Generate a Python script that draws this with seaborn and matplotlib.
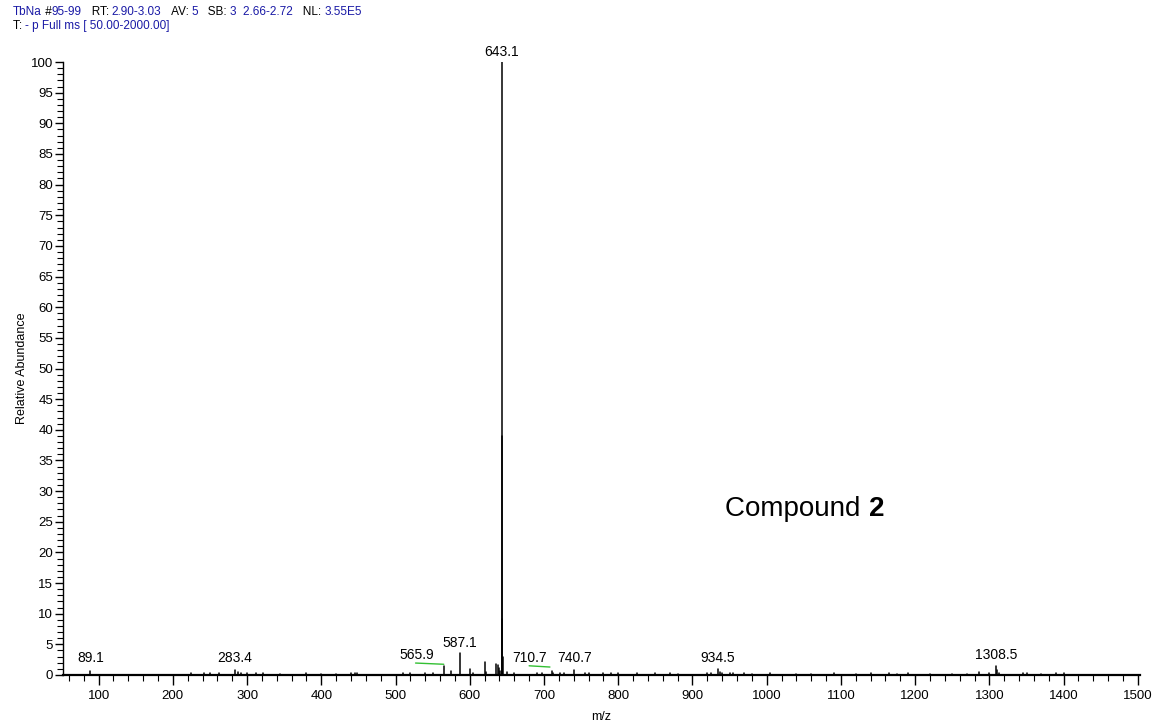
import numpy as np
import pandas as pd
import matplotlib
matplotlib.use("Agg")
import matplotlib.pyplot as plt
import seaborn as sns
from matplotlib.offsetbox import TextArea, HPacker, AnchoredOffsetbox
from matplotlib.ticker import MultipleLocator

# ---------------- data ----------------
peak_mz = [89.1, 225, 242, 250, 262, 283.4, 288, 292, 300, 312, 322, 345, 380, 400, 420, 440, 445, 448,
           510, 520, 540, 550, 565.9, 575, 587.1, 600, 605, 620.0, 622, 636, 637.5, 639, 640.5,
           643.1, 643.5, 644.1, 645.1, 650, 660, 690, 697, 710.7, 712, 722, 727, 740.7, 755, 760,
           780, 790, 800, 825, 850, 870, 880, 920, 925, 934.5, 936.5, 940, 950, 955, 970, 980,
           1004, 1040, 1060, 1090, 1120, 1140, 1165, 1175, 1190, 1220, 1250, 1270, 1286,
           1300, 1308.5, 1310.5, 1313, 1345, 1350, 1370, 1390, 1400]
peak_ab = [0.6, 0.25, 0.3, 0.25, 0.3, 0.8, 0.45, 0.35, 0.3, 0.4, 0.25, 0.2, 0.25, 0.2, 0.2, 0.3, 0.4, 0.3,
           0.3, 0.3, 0.35, 0.3, 1.5, 0.6, 3.6, 0.9, 0.4, 2.2, 0.5, 1.8, 1.6, 1.2, 0.6,
           100, 39, 9.2, 3.0, 0.5, 0.3, 0.3, 0.35, 0.7, 0.4, 0.3, 0.3, 0.8, 0.4, 0.3,
           0.25, 0.25, 0.3, 0.25, 0.25, 0.3, 0.2, 0.3, 0.35, 0.9, 0.5, 0.3, 0.3, 0.25, 0.3, 0.2,
           0.3, 0.2, 0.2, 0.25, 0.2, 0.3, 0.25, 0.2, 0.25, 0.2, 0.2, 0.2, 0.55,
           0.3, 1.5, 0.8, 0.4, 0.3, 0.25, 0.2, 0.25, 0.3]

label_text = ["89.1", "283.4", "565.9", "587.1", "643.1", "710.7", "740.7", "934.5", "1308.5"]
label_mz   = [89.1, 283.4, 528, 587.1, 643.1, 681, 740.7, 934.5, 1308.5]
label_ab   = [1.1, 1.1, 1.6, 3.7, 100, 1.1, 1.1, 1.1, 1.6]

leader_mz = [[527, 565], [680, 708]]
leader_ab = [[1.95, 1.75], [1.5, 1.3]]

# ---------------- figure ----------------
sns.set_theme(style="ticks")
plt.rcParams['font.family'] = ['Liberation Sans', 'DejaVu Sans']
plt.rcParams.update({"text.color": "black", "axes.labelcolor": "black",
                     "xtick.color": "black", "ytick.color": "black",
                     "axes.edgecolor": "black"})

fig = plt.figure(figsize=(11.53, 7.22), dpi=100)
ax = fig.add_axes([0.0546, 0.0651, 0.9342, 0.8490])

rows = []
for i, (m, a) in enumerate(zip(peak_mz, peak_ab)):
    rows.append({"peak": i, "mz": m, "ab": 0.0})
    rows.append({"peak": i, "mz": m, "ab": a})
df = pd.DataFrame(rows)
sns.lineplot(data=df, x="mz", y="ab", units="peak", estimator=None, sort=False,
             color="black", lw=1.1, ax=ax, legend=False)

for xs, ys in zip(leader_mz, leader_ab):
    ax.plot(xs, ys, color="#33c033", lw=1.0)

for t, m, a in zip(label_text, label_mz, label_ab):
    ax.annotate(t, xy=(m, a), xytext=(0, 2), textcoords="offset points",
                ha="center", va="bottom", fontsize=10, clip_on=False)

ax.set_xlim(52, 1503)
ax.set_ylim(0, 100)
ax.xaxis.set_minor_locator(MultipleLocator(20))
ax.yaxis.set_major_locator(MultipleLocator(5))
ax.yaxis.set_minor_locator(MultipleLocator(1))
ax.set_xticks(np.arange(100, 1501, 100))
ax.tick_params(axis="x", which="major", length=7, width=1, labelsize=9.5, pad=4)
ax.tick_params(axis="x", which="minor", length=4, width=0.8)
ax.tick_params(axis="y", which="major", length=6, width=1, labelsize=9.5, pad=1)
ax.tick_params(axis="y", which="minor", length=4, width=0.8)
sns.despine(ax=ax)
ax.spines["left"].set_linewidth(1.0)
ax.spines["bottom"].set_linewidth(1.6)
ax.set_xlabel("m/z", fontsize=9, labelpad=6)
ax.set_ylabel("Relative Abundance", fontsize=9, labelpad=2)
ax.set_facecolor("white")

t1 = ax.text(0.615, 0.27, "Compound ", transform=ax.transAxes, fontsize=20,
             ha="left", va="center", color="black")
ax.annotate("2", xy=(1, 0.5), xycoords=t1, xytext=(0, 0), textcoords="offset points",
            fontsize=20, fontweight="bold", ha="left", va="center", color="black")

blue = "#1a1aa6"
def header(parts, y):
    boxes = [TextArea(t, textprops=dict(color=c, fontsize=8.5, family=['Liberation Sans', 'DejaVu Sans']))
             for t, c in parts]
    pack = HPacker(children=boxes, align="baseline", pad=0, sep=0)
    ab = AnchoredOffsetbox(loc="upper left", child=pack, pad=0, borderpad=0, frameon=False,
                           bbox_to_anchor=(13 / 1153, y), bbox_transform=fig.transFigure)
    fig.add_artist(ab)

header([("TbNa", blue), (" #", "black"), ("95-99", blue), ("   RT: ", "black"), ("2.90-3.03", blue),
        ("   AV: ", "black"), ("5", blue), ("   SB: ", "black"), ("3  2.66-2.72", blue),
        ("   NL: ", "black"), ("3.55E5", blue)], 1 - 6 / 722)
header([("T: ", "black"), ("- p Full ms [ 50.00-2000.00]", blue)], 1 - 20 / 722)

fig.savefig("out.png", dpi=100, facecolor="white")
